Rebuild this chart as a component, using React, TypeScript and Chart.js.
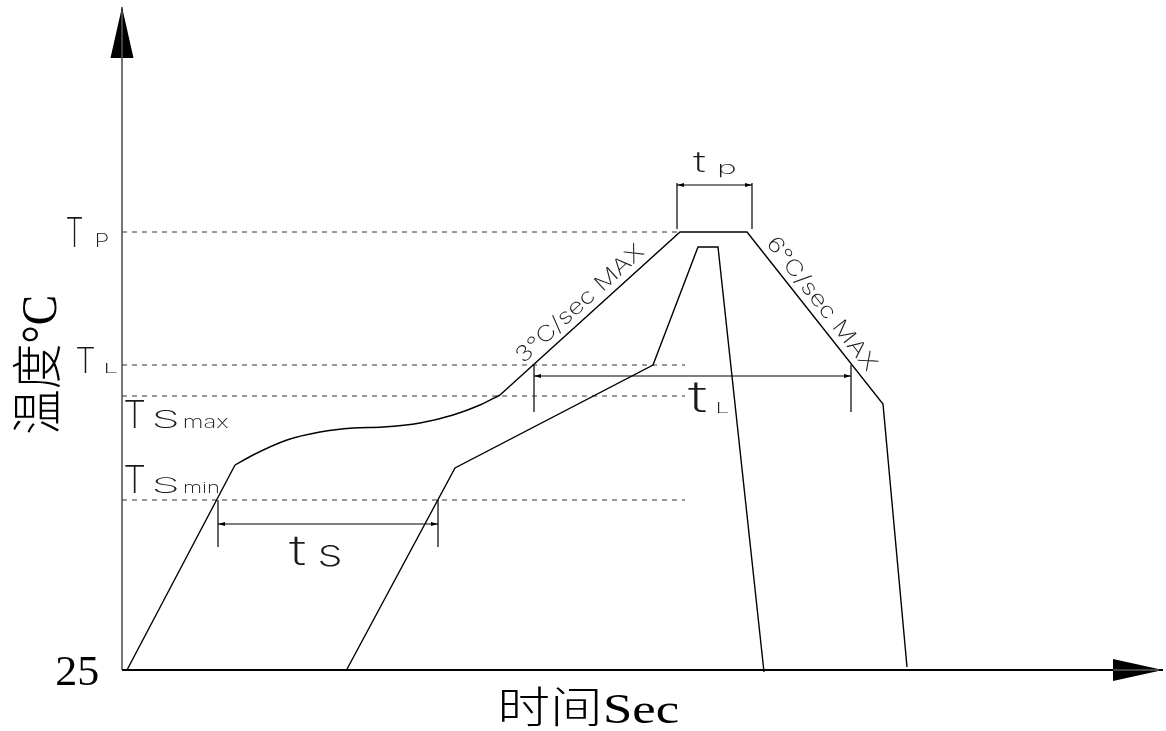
import React, { useEffect, useRef } from "react";
import { Chart, registerables } from "chart.js";

Chart.register(...registerables);

// Plot units: time to the right of the temperature axis, temperature above the 25 °C baseline.
// Reference temperature levels
const levelNames = ["Tp", "TL", "TSmax", "TSmin"];
const levelValues = [438, 305, 274, 170];
const levelEnds = [558, 563, 563, 563];

// Outer (max) profile
const maxRampTime = [5, 113];
const maxRampTemp = [0, 205];
const maxSoakTime = [113, 131, 165, 198, 231, 261, 298, 331, 358, 378];
const maxSoakTemp = [205, 215, 230, 238, 242, 243, 247, 255, 265, 275];
const maxPeakTime = [378, 558, 625, 761, 785];
const maxPeakTemp = [275, 438, 438, 266, 3];

// Inner (min) profile
const minTime = [224, 333, 531, 576, 596, 642];
const minTemp = [-1, 202, 305, 423, 423, -2];

// Dimension markers (ts, tL, tp)
const dimNames = ["ts", "tL", "tp"];
const dimStart = [96, 412, 555];
const dimEnd = [316, 729, 630];
const dimLevel = [146, 294, 485];
const extTop = [170, 305, 487];
const extBottom = [123, 258, 441];

// Axis extents
const xAxisEnd = 991;
const xArrowTip = 1041;
const yAxisEnd = 612;
const yArrowTip = 663;

// Tick labels / titles
const yTickLabel = "25";
const xTitle = "时间Sec";
const yTitle = "温度°C";
const riseLabel = "3°C/sec MAX";
const fallLabel = "6°C/sec MAX";

const CAD_FONT = "Inter, Lato, 'DejaVu Sans', sans-serif";
const SERIF_FONT = "'Liberation Serif', 'DejaVu Serif', 'Noto Sans CJK SC', serif";

function pts(xs: number[], ys: number[]) {
  return xs.map((x, i) => ({ x, y: ys[i] }));
}

function fitText(
  ctx: CanvasRenderingContext2D,
  text: string,
  x: number,
  y: number,
  w: number,
  h: number,
  angle: number,
  family: string,
  weight: number | string,
  color: string
) {
  ctx.save();
  ctx.font = `${weight} 100px ${family}`;
  const m = ctx.measureText(text);
  const inkW = m.actualBoundingBoxLeft + m.actualBoundingBoxRight;
  const inkH = m.actualBoundingBoxAscent + m.actualBoundingBoxDescent;
  ctx.translate(x, y);
  ctx.rotate(angle);
  ctx.scale(w / inkW, h / inkH);
  ctx.fillStyle = color;
  ctx.textAlign = "left";
  ctx.textBaseline = "alphabetic";
  ctx.fillText(text, m.actualBoundingBoxLeft, -m.actualBoundingBoxDescent);
  ctx.restore();
}

const decorPlugin = {
  id: "decor",
  beforeDatasetsDraw(chart: any) {
    const ctx: CanvasRenderingContext2D = chart.ctx;
    const xs = chart.scales.x;
    const ys = chart.scales.y;
    const X = (v: number) => xs.getPixelForValue(v);
    const Y = (v: number) => ys.getPixelForValue(v);
    ctx.save();
    // y axis
    ctx.strokeStyle = "#777";
    ctx.lineWidth = 2;
    ctx.beginPath();
    ctx.moveTo(X(0), Y(0));
    ctx.lineTo(X(0), Y(yArrowTip));
    ctx.stroke();
    // x axis
    ctx.strokeStyle = "#000";
    ctx.beginPath();
    ctx.moveTo(X(0), Y(0));
    ctx.lineTo(X(xArrowTip), Y(0));
    ctx.stroke();
    // arrow heads
    ctx.fillStyle = "#000";
    ctx.beginPath();
    ctx.moveTo(X(0), Y(yArrowTip));
    ctx.lineTo(X(0) - 11.5, Y(yAxisEnd));
    ctx.lineTo(X(0) + 11.5, Y(yAxisEnd));
    ctx.closePath();
    ctx.fill();
    ctx.beginPath();
    ctx.moveTo(X(xArrowTip), Y(0));
    ctx.lineTo(X(xAxisEnd), Y(0) - 11);
    ctx.lineTo(X(xAxisEnd), Y(0) + 11);
    ctx.closePath();
    ctx.fill();
    ctx.strokeStyle = "#888";
    ctx.lineWidth = 1;
    ctx.beginPath();
    ctx.moveTo(X(0), Y(yAxisEnd));
    ctx.lineTo(X(0), Y(yArrowTip) + 4);
    ctx.moveTo(X(xAxisEnd), Y(0));
    ctx.lineTo(X(xArrowTip) - 4, Y(0));
    ctx.stroke();

    // dimension markers
    dimNames.forEach((_, i) => {
      ctx.strokeStyle = "#666";
      ctx.lineWidth = 2;
      ctx.beginPath();
      [dimStart[i], dimEnd[i]].forEach((t) => {
        ctx.moveTo(X(t), Y(extTop[i]));
        ctx.lineTo(X(t), Y(extBottom[i]));
      });
      ctx.stroke();
      ctx.strokeStyle = "#000";
      ctx.lineWidth = 1.2;
      const x1 = X(dimStart[i]);
      const x2 = X(dimEnd[i]);
      const yy = Y(dimLevel[i]);
      ctx.beginPath();
      ctx.moveTo(x1, yy);
      ctx.lineTo(x2, yy);
      ctx.stroke();
      ctx.fillStyle = "#000";
      ctx.beginPath();
      ctx.moveTo(x1, yy);
      ctx.lineTo(x1 + 7, yy - 2);
      ctx.lineTo(x1 + 7, yy + 2);
      ctx.closePath();
      ctx.moveTo(x2, yy);
      ctx.lineTo(x2 - 7, yy - 2);
      ctx.lineTo(x2 - 7, yy + 2);
      ctx.closePath();
      ctx.fill();
    });
    ctx.restore();
  },
  afterDatasetsDraw(chart: any) {
    const ctx: CanvasRenderingContext2D = chart.ctx;
    const xs = chart.scales.x;
    const ys = chart.scales.y;
    const X = (v: number) => xs.getPixelForValue(v);
    const Y = (v: number) => ys.getPixelForValue(v);
    const ink = "#1a1a1a";
    const W = 200;
    const ox = X(0);
    const oy = Y(0);

    // level labels (left of axis)
    fitText(ctx, "T", ox - 55, Y(levelValues[0]) + 15, 15, 30, 0, CAD_FONT, W, ink);
    fitText(ctx, "P", ox - 25, Y(levelValues[0]) + 15, 11, 14, 0, CAD_FONT, W, ink);
    fitText(ctx, "T", ox - 45, Y(levelValues[1]) + 8, 17, 26, 0, CAD_FONT, W, ink);
    fitText(ctx, "L", ox - 16, Y(levelValues[1]) + 8, 11, 10, 0, CAD_FONT, W, ink);
    fitText(ctx, "T", ox + 3, Y(levelValues[2]) + 32, 19, 28, 0, CAD_FONT, W, ink);
    fitText(ctx, "S", ox + 33, Y(levelValues[2]) + 32, 22, 18, 0, CAD_FONT, W, ink);
    fitText(ctx, "max", ox + 63, Y(levelValues[2]) + 32, 43, 10, 0, CAD_FONT, W, ink);
    fitText(ctx, "T", ox + 3, Y(levelValues[3]) - 7, 19, 28, 0, CAD_FONT, W, ink);
    fitText(ctx, "S", ox + 33, Y(levelValues[3]) - 7, 22, 16, 0, CAD_FONT, W, ink);
    fitText(ctx, "min", ox + 63, Y(levelValues[3]) - 7, 33, 11, 0, CAD_FONT, W, ink);

    // dimension labels
    fitText(ctx, "t", X(dimStart[0]) + 71, Y(dimLevel[0]) + 42, 16, 29, 0, CAD_FONT, W, ink);
    fitText(ctx, "s", X(dimStart[0]) + 102, Y(dimLevel[0]) + 43, 20, 22, 0, CAD_FONT, W, ink);
    fitText(ctx, "t", X(dimStart[1]) + 154, Y(dimLevel[1]) + 37, 18, 30, 0, CAD_FONT, W, ink);
    fitText(ctx, "L", X(dimStart[1]) + 184, Y(dimLevel[1]) + 37, 10, 11, 0, CAD_FONT, W, ink);
    fitText(ctx, "t", X(dimStart[2]) + 16, Y(dimLevel[2]) - 12, 12, 20, 0, CAD_FONT, W, ink);
    fitText(ctx, "p", X(dimStart[2]) + 43, Y(dimLevel[2]) - 7, 15, 13, 0, CAD_FONT, W, ink);

    // slope labels along the peak ramp lines
    const p0 = { x: X(maxPeakTime[0]), y: Y(maxPeakTemp[0]) };
    const p1 = { x: X(maxPeakTime[1]), y: Y(maxPeakTemp[1]) };
    const aR = Math.atan2(p1.y - p0.y, p1.x - p0.x);
    const dR = { x: Math.cos(aR), y: Math.sin(aR) };
    const nR = { x: dR.y, y: -dR.x };
    const sR = 40;
    fitText(ctx, riseLabel, p0.x + dR.x * sR + nR.x * 5, p0.y + dR.y * sR + nR.y * 5, 162, 19, aR, CAD_FONT, W, ink);

    const q0 = { x: X(maxPeakTime[2]), y: Y(maxPeakTemp[2]) };
    const q1 = { x: X(maxPeakTime[3]), y: Y(maxPeakTemp[3]) };
    const aF = Math.atan2(q1.y - q0.y, q1.x - q0.x);
    const dF = { x: Math.cos(aF), y: Math.sin(aF) };
    const nF = { x: dF.y, y: -dF.x };
    const sF = 22;
    fitText(ctx, fallLabel, q0.x + dF.x * sF + nF.x * 5, q0.y + dF.y * sF + nF.y * 5, 162, 19, aF, CAD_FONT, W, ink);

    // tick label and titles
    fitText(ctx, yTickLabel, ox - 65, oy + 16, 41, 28, 0, SERIF_FONT, 400, "#000");
    fitText(ctx, xTitle, 502, 727, 176, 40, 0, SERIF_FONT, 300, "#000");
    fitText(ctx, yTitle, 60, 433, 136, 47, -Math.PI / 2, SERIF_FONT, 300, "#000");
  },
};

export default function App() {
  const ref = useRef<HTMLCanvasElement | null>(null);
  useEffect(() => {
    if (!ref.current) return;
    const line = { borderColor: "#000", borderWidth: 1.4, pointRadius: 0, fill: false, clip: false as any };
    const datasets: any[] = [
      { ...line, label: "max ramp", data: pts(maxRampTime, maxRampTemp), tension: 0 },
      { ...line, label: "max soak", data: pts(maxSoakTime, maxSoakTemp), cubicInterpolationMode: "monotone" },
      { ...line, label: "max peak", data: pts(maxPeakTime, maxPeakTemp), tension: 0 },
      { ...line, label: "min profile", data: pts(minTime, minTemp), tension: 0 },
      ...levelNames.map((name, i) => ({
        label: name,
        data: [
          { x: 0, y: levelValues[i] },
          { x: levelEnds[i], y: levelValues[i] },
        ],
        borderColor: "#333",
        borderWidth: 1,
        borderDash: [5, 5],
        pointRadius: 0,
        fill: false,
        clip: false,
      })),
    ];
    const chart = new Chart(ref.current, {
      type: "line",
      data: { datasets },
      options: {
        animation: false,
        responsive: false,
        maintainAspectRatio: false,
        layout: { padding: 0 },
        plugins: { legend: { display: false }, tooltip: { enabled: false } },
        scales: {
          x: { type: "linear", min: -122, max: 1044, display: false },
          y: { type: "linear", min: -61, max: 670, display: false },
        },
      },
      plugins: [decorPlugin],
    });
    return () => chart.destroy();
  }, []);
  return (
    <div style={{ position: "absolute", left: 0, top: 0, width: 1166, height: 731, background: "#fff" }}>
      <canvas ref={ref} width={1166} height={731} style={{ display: "block", width: 1166, height: 731 }} />
    </div>
  );
}
